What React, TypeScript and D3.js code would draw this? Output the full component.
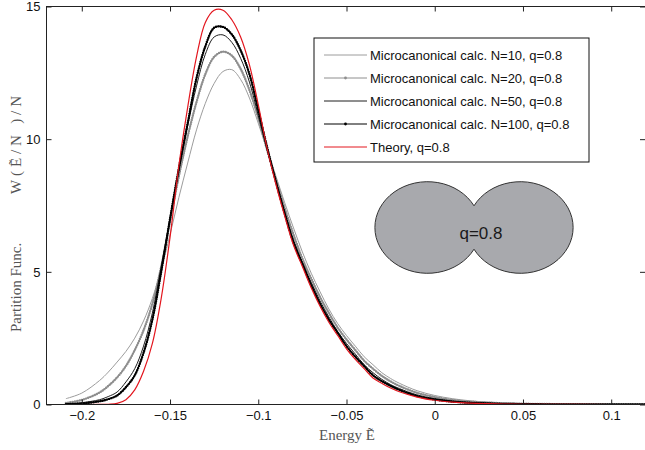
import React, { useEffect, useRef } from "react";
import * as d3 from "d3";

// energy grid (E/N) shared by all curves
const energy = [
  -0.209, -0.2, -0.19, -0.185, -0.18, -0.175, -0.17, -0.165, -0.16, -0.155,
  -0.15, -0.145, -0.14, -0.135, -0.13, -0.125, -0.12, -0.115, -0.11, -0.105,
  -0.1, -0.095, -0.09, -0.085, -0.08, -0.075, -0.07, -0.065, -0.06, -0.055,
  -0.05, -0.045, -0.04, -0.035, -0.03, -0.025, -0.02, -0.01, 0, 0.01,
  0.02, 0.03, 0.04, 0.05, 0.06, 0.08, 0.1, 0.12,
];

const wN10 = [
  0.22, 0.43, 0.9, 1.22, 1.6, 2.0, 2.5, 3.15, 4.0, 5.1,
  6.4, 7.8, 9.1, 10.35, 11.35, 12.1, 12.55, 12.62, 12.25, 11.55,
  10.6, 9.6, 8.6, 7.6, 6.65, 5.75, 4.95, 4.25, 3.6, 3.05,
  2.6, 2.2, 1.8, 1.5, 1.2, 0.98, 0.8, 0.52, 0.34, 0.22,
  0.14, 0.09, 0.06, 0.04, 0.027, 0.012, 0.006, 0.003,
];

const wN20 = [
  0.06, 0.17, 0.45, 0.7, 1.02, 1.45, 2.05, 2.8, 3.8, 5.2,
  6.9, 8.6, 10.1, 11.4, 12.45, 13.1, 13.3, 13.15, 12.65, 11.85,
  10.8, 9.6, 8.5, 7.4, 6.4, 5.5, 4.75, 4.05, 3.45, 2.9,
  2.45, 2.05, 1.65, 1.35, 1.08, 0.87, 0.7, 0.44, 0.28, 0.17,
  0.11, 0.07, 0.045, 0.03, 0.02, 0.008, 0.004, 0.002,
];

const wN50 = [
  0.03, 0.07, 0.18, 0.3, 0.47, 0.85, 1.35, 2.2, 3.45, 5.2,
  7.0, 8.8, 10.5, 12.0, 13.2, 13.85, 13.93, 13.65, 13.05, 12.15,
  10.9, 9.6, 8.4, 7.25, 6.2, 5.35, 4.6, 3.9, 3.3, 2.75,
  2.3, 1.9, 1.5, 1.2, 0.95, 0.75, 0.6, 0.36, 0.22, 0.13,
  0.08, 0.05, 0.03, 0.017, 0.01, 0.004, 0.002, 0.001,
];

const wN100 = [
  0.01, 0.04, 0.12, 0.2, 0.34, 0.65, 1.1, 1.95, 3.2, 5.0,
  7.0, 8.9, 10.6, 12.3, 13.5, 14.2, 14.23, 13.95, 13.35, 12.45,
  11.1, 9.7, 8.4, 7.2, 6.1, 5.3, 4.5, 3.8, 3.2, 2.7,
  2.2, 1.8, 1.45, 1.1, 0.88, 0.7, 0.55, 0.32, 0.19, 0.11,
  0.065, 0.04, 0.022, 0.012, 0.007, 0.002, 0.001, 0,
];

const wTheory = [
  0, 0, 0.003, 0.01, 0.04, 0.18, 0.55, 1.25, 2.3, 4.0,
  6.3, 9.0, 11.2, 13.1, 14.4, 14.86, 14.86, 14.5, 13.85, 12.8,
  11.3, 9.65, 8.3, 7.1, 6.0, 5.2, 4.4, 3.7, 3.1, 2.6,
  2.1, 1.7, 1.35, 1.0, 0.8, 0.62, 0.48, 0.28, 0.16, 0.09,
  0.05, 0.03, 0.015, 0.008, 0.004, 0.001, 0, 0,
];

const xTicks = [-0.2, -0.15, -0.1, -0.05, 0, 0.05, 0.1];
const yTicks = [0, 5, 10, 15];

const seriesLabels = [
  "Microcanonical calc. N=10, q=0.8",
  "Microcanonical calc. N=20, q=0.8",
  "Microcanonical calc. N=50, q=0.8",
  "Microcanonical calc. N=100, q=0.8",
  "Theory, q=0.8",
];

const seriesStyle = [
  { color: "#9c9c9c", width: 1, beads: false },
  { color: "#8e8e8e", width: 1.2, beads: true },
  { color: "#1e1e1e", width: 1, beads: false },
  { color: "#000000", width: 1.3, beads: true },
  { color: "#e3161e", width: 1.2, beads: false },
];

const sans = "'Liberation Sans', Arial, Helvetica, sans-serif";
const serif = "'Liberation Serif', 'DejaVu Serif', 'Times New Roman', serif";

export default function App() {
  const ref = useRef<SVGSVGElement | null>(null);

  useEffect(() => {
    const width = 645,
      height = 450;
    const left = 46.5,
      right = 646.5,
      top = 6.5,
      bottom = 404.5;

    const svg = d3.select(ref.current);
    svg.selectAll("*").remove();

    const x = d3.scaleLinear().domain([-0.22, 0.12]).range([left, right]);
    const y = d3.scaleLinear().domain([0, 15]).range([bottom, top]);

    svg.append("rect").attr("width", width).attr("height", height).attr("fill", "white");

    svg
      .append("defs")
      .append("clipPath")
      .attr("id", "plotclip")
      .append("rect")
      .attr("x", left)
      .attr("y", top)
      .attr("width", right - left)
      .attr("height", bottom - top);

    const all = [wN10, wN20, wN50, wN100, wTheory];
    const line = d3
      .line<number>()
      .x((d, i) => x(energy[i]))
      .y((d) => y(Math.max(0, d)))
      .curve(d3.curveCatmullRom.alpha(0.5));

    const plot = svg.append("g").attr("clip-path", "url(#plotclip)");
    all.forEach((vals, k) => {
      const st = seriesStyle[k];
      plot
        .append("path")
        .attr("d", line(vals))
        .attr("fill", "none")
        .attr("stroke", st.color)
        .attr("stroke-width", st.width);
      if (st.beads) {
        plot
          .append("path")
          .attr("d", line(vals))
          .attr("fill", "none")
          .attr("stroke", st.color)
          .attr("stroke-width", 2.4)
          .attr("stroke-linecap", "round")
          .attr("stroke-dasharray", "0 2.3");
      }
    });

    // axes box
    svg
      .append("rect")
      .attr("x", left)
      .attr("y", top)
      .attr("width", right - left)
      .attr("height", bottom - top)
      .attr("fill", "none")
      .attr("stroke", "#222")
      .attr("stroke-width", 1);

    const xAxis = d3
      .axisBottom(x)
      .tickValues(xTicks)
      .tickSizeInner(-5)
      .tickSizeOuter(0)
      .tickPadding(6)
      .tickFormat((d) => d3.format("")(d as number));
    const gx = svg.append("g").attr("transform", `translate(0,${bottom})`).call(xAxis);
    gx.select(".domain").remove();

    const xTop = d3.axisTop(x).tickValues(xTicks).tickSizeInner(-5).tickSizeOuter(0).tickFormat(() => "");
    const gxt = svg.append("g").attr("transform", `translate(0,${top})`).call(xTop);
    gxt.select(".domain").remove();

    const yAxis = d3
      .axisLeft(y)
      .tickValues(yTicks)
      .tickSizeInner(-5)
      .tickSizeOuter(0)
      .tickPadding(6)
      .tickFormat((d) => d3.format("")(d as number));
    const gy = svg.append("g").attr("transform", `translate(${left},0)`).call(yAxis);
    gy.select(".domain").remove();

    const yRight = d3.axisRight(y).tickValues(yTicks).tickSizeInner(-5).tickSizeOuter(0).tickFormat(() => "");
    const gyr = svg.append("g").attr("transform", `translate(${right - 1.5},0)`).call(yRight);
    gyr.select(".domain").remove();

    svg
      .selectAll(".tick line")
      .attr("stroke", "#222")
      .attr("stroke-width", 1);
    svg
      .selectAll(".tick text")
      .attr("fill", "#111")
      .style("font-family", sans)
      .style("font-size", "13px");

    // axis titles
    svg
      .append("text")
      .attr("x", 347)
      .attr("y", 440)
      .attr("text-anchor", "middle")
      .attr("fill", "#555")
      .style("font-family", serif)
      .style("font-size", "15px")
      .text("Energy Ẽ");

    svg
      .append("text")
      .attr("transform", `translate(21,332) rotate(-90)`)
      .attr("text-anchor", "start")
      .attr("fill", "#555")
      .style("font-family", serif)
      .style("font-size", "15px")
      .text("Partition Func.");

    svg
      .append("text")
      .attr("transform", `translate(21,96) rotate(-90)`)
      .attr("text-anchor", "end")
      .attr("fill", "#555")
      .attr("textLength", 98)
      .attr("lengthAdjust", "spacing")
      .style("font-family", serif)
      .style("font-size", "15px")
      .text("W(Ẽ/N )/N");

    // legend
    const lg = svg.append("g").attr("transform", "translate(314,38)");
    lg.append("rect")
      .attr("width", 275)
      .attr("height", 124)
      .attr("fill", "white")
      .attr("stroke", "#111")
      .attr("stroke-width", 1);
    const rowY = d3.scalePoint<number>().domain(d3.range(seriesLabels.length)).range([17, 109]);
    seriesLabels.forEach((lab, k) => {
      const st = seriesStyle[k];
      const yy = rowY(k) as number;
      lg.append("line")
        .attr("x1", 10)
        .attr("x2", 53)
        .attr("y1", yy)
        .attr("y2", yy)
        .attr("stroke", st.color)
        .attr("stroke-width", 1);
      if (st.beads) {
        lg.append("circle").attr("cx", 31.5).attr("cy", yy).attr("r", 1.4).attr("fill", st.color);
      }
      lg.append("text")
        .attr("x", 56)
        .attr("y", yy + 4.5)
        .attr("fill", "#111")
        .style("font-family", sans)
        .style("font-size", "13px")
        .text(lab);
    });

    // inset: two-lobed shape with q=0.8
    const cx = 474,
      cy = 227.5,
      rx = 52.7,
      ry = 45.8,
      h = 21.7;
    const pathD =
      `M${cx},${cy - h} A${rx},${ry} 0 1 0 ${cx},${cy + h} ` +
      `A${rx},${ry} 0 1 0 ${cx},${cy - h} Z`;
    svg
      .append("path")
      .attr("d", pathD)
      .attr("fill", "#a8a9ad")
      .attr("stroke", "#333")
      .attr("stroke-width", 1);
    svg
      .append("text")
      .attr("x", 481)
      .attr("y", 239)
      .attr("text-anchor", "middle")
      .attr("fill", "#1a1a1a")
      .style("font-family", sans)
      .style("font-size", "17px")
      .text("q=0.8");
  }, []);

  return (
    <div style={{ position: "absolute", left: 0, top: 0, width: 645, height: 450, overflow: "hidden" }}>
      <svg ref={ref} width={645} height={450} style={{ display: "block" }} />
    </div>
  );
}
